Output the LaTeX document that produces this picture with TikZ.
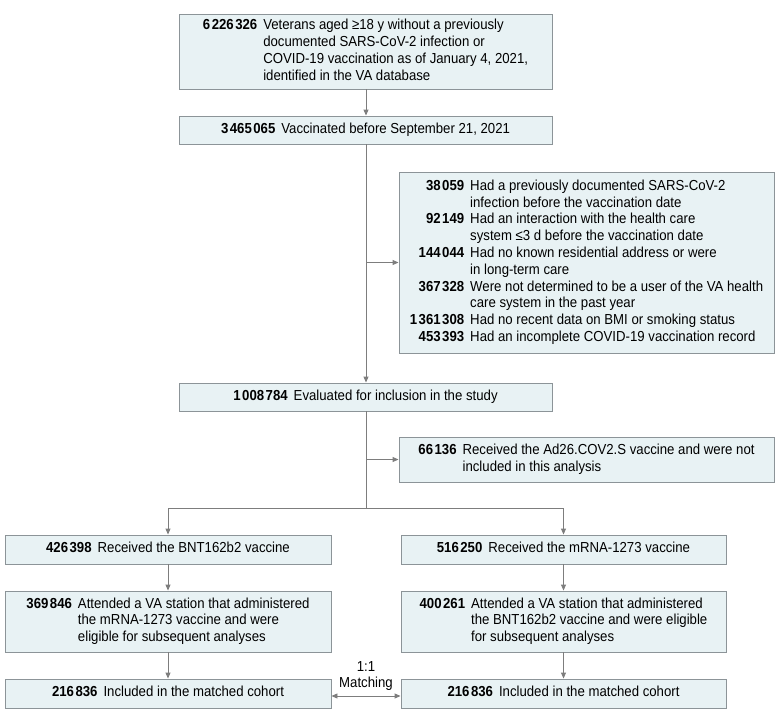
\documentclass[tikz,border=0pt]{standalone}
\usepackage{fontspec}
\setmainfont{Liberation Sans}[FakeStretch=0.91]
\usetikzlibrary{arrows.meta}
\definecolor{boxfill}{RGB}{232,242,244}
\definecolor{boxline}{RGB}{140,148,152}
\definecolor{arr}{RGB}{125,125,125}
\newcommand\ts{\kern1.5pt}
\newcommand\nm[1]{\textbf{#1}}
\tikzset{
  box/.style={draw=boxline, fill=boxfill, line width=0.9pt, inner sep=0pt, align=center, font=\fontsize{14.5}{16.8}\selectfont},
  conn/.style={draw=arr, line width=0.9pt},
  arrow/.style={conn, -{Triangle[length=6pt,width=5pt]}}
}
\newcommand\rows[1]{\begin{tabular}{@{}r@{\hspace{6pt}}l@{}}#1\end{tabular}}
\begin{document}
\begin{tikzpicture}[x=1pt,y=1pt]
\useasboundingbox (0,0) rectangle (780,-721);
\node[box, minimum width=373, minimum height=75] (top) at (365.5,-51.5)
  {\rows{\nm{6\ts226\ts326} & Veterans aged ≥18 y without a previously\\
   & documented SARS-CoV-2 infection or\\
   & COVID-19 vaccination as of January 4, 2021,\\
   & identified in the VA database}};
\node[box, minimum width=373, minimum height=28] (vac) at (365.5,-130)
  {\rows{\nm{3\ts465\ts065} & Vaccinated before September 21, 2021}};
\node[box, minimum width=375, minimum height=181] (exc) at (586.5,-262.5)
  {\rows{\nm{38\ts059} & Had a previously documented SARS-CoV-2\\
   & infection before the vaccination date\\
   \nm{92\ts149} & Had an interaction with the health care\\
   & system ≤3 d before the vaccination date\\
   \nm{144\ts044} & Had no known residential address or were\\
   & in long-term care\\
   \nm{367\ts328} & Were not determined to be a user of the VA health\\
   & care system in the past year\\
   \nm{1\ts361\ts308} & Had no recent data on BMI or smoking status\\
   \nm{453\ts393} & Had an incomplete COVID-19 vaccination record}};
\node[box, minimum width=373, minimum height=28] (eval) at (365.5,-397)
  {\rows{\nm{1\ts008\ts784} & Evaluated for inclusion in the study}};
\node[box, minimum width=375, minimum height=45] (ad) at (586.5,-459.5)
  {\rows{\nm{66\ts136} & Received the Ad26.COV2.S vaccine and were not\\
   & included in this analysis}};
\node[box, minimum width=326, minimum height=29] (l1) at (168,-549.5)
  {\rows{\nm{426\ts398} & Received the BNT162b2 vaccine}};
\node[box, minimum width=326, minimum height=61] (l2) at (168,-621.5)
  {\rows{\nm{369\ts846} & Attended a VA station that administered\\
   & the mRNA-1273 vaccine and were\\
   & eligible for subsequent analyses}};
\node[box, minimum width=326, minimum height=29] (l3) at (168,-693.5)
  {\rows{\nm{216\ts836} & Included in the matched cohort}};
\node[box, minimum width=325, minimum height=29] (r1) at (563.5,-549.5)
  {\rows{\nm{516\ts250} & Received the mRNA-1273 vaccine}};
\node[box, minimum width=325, minimum height=61] (r2) at (563.5,-621.5)
  {\rows{\nm{400\ts261} & Attended a VA station that administered\\
   & the BNT162b2 vaccine and were eligible\\
   & for subsequent analyses}};
\node[box, minimum width=325, minimum height=29] (r3) at (563.5,-693.5)
  {\rows{\nm{216\ts836} & Included in the matched cohort}};
\node[align=center, inner sep=0pt, font=\fontsize{14.5}{15.5}\selectfont] (match) at (366,-676) {1:1\\Matching};
\coordinate (j1) at (366,-262.5);
\coordinate (j2) at (366,-459.5);
\coordinate (split) at (366,-508);
\draw[arrow] (top.south -| 366,0) -- (vac.north -| 366,0);
\draw[arrow] (vac.south -| 366,0) -- (eval.north -| 366,0);
\draw[arrow] (j1) -- (exc.west);
\draw[conn] (eval.south -| 366,0) -- (split);
\draw[arrow] (j2) -- (ad.west);
\draw[arrow] (split) -| (l1.north);
\draw[arrow] (split) -| (r1.north);
\draw[arrow] (l1) -- (l2);
\draw[arrow] (l2) -- (l3);
\draw[arrow] (r1) -- (r2);
\draw[arrow] (r2) -- (r3);
\draw[conn, {Triangle[length=6pt,width=5pt]}-{Triangle[length=6pt,width=5pt]}] (l3.east |- 0,-696) -- (r3.west |- 0,-696);
\end{tikzpicture}
\end{document}
